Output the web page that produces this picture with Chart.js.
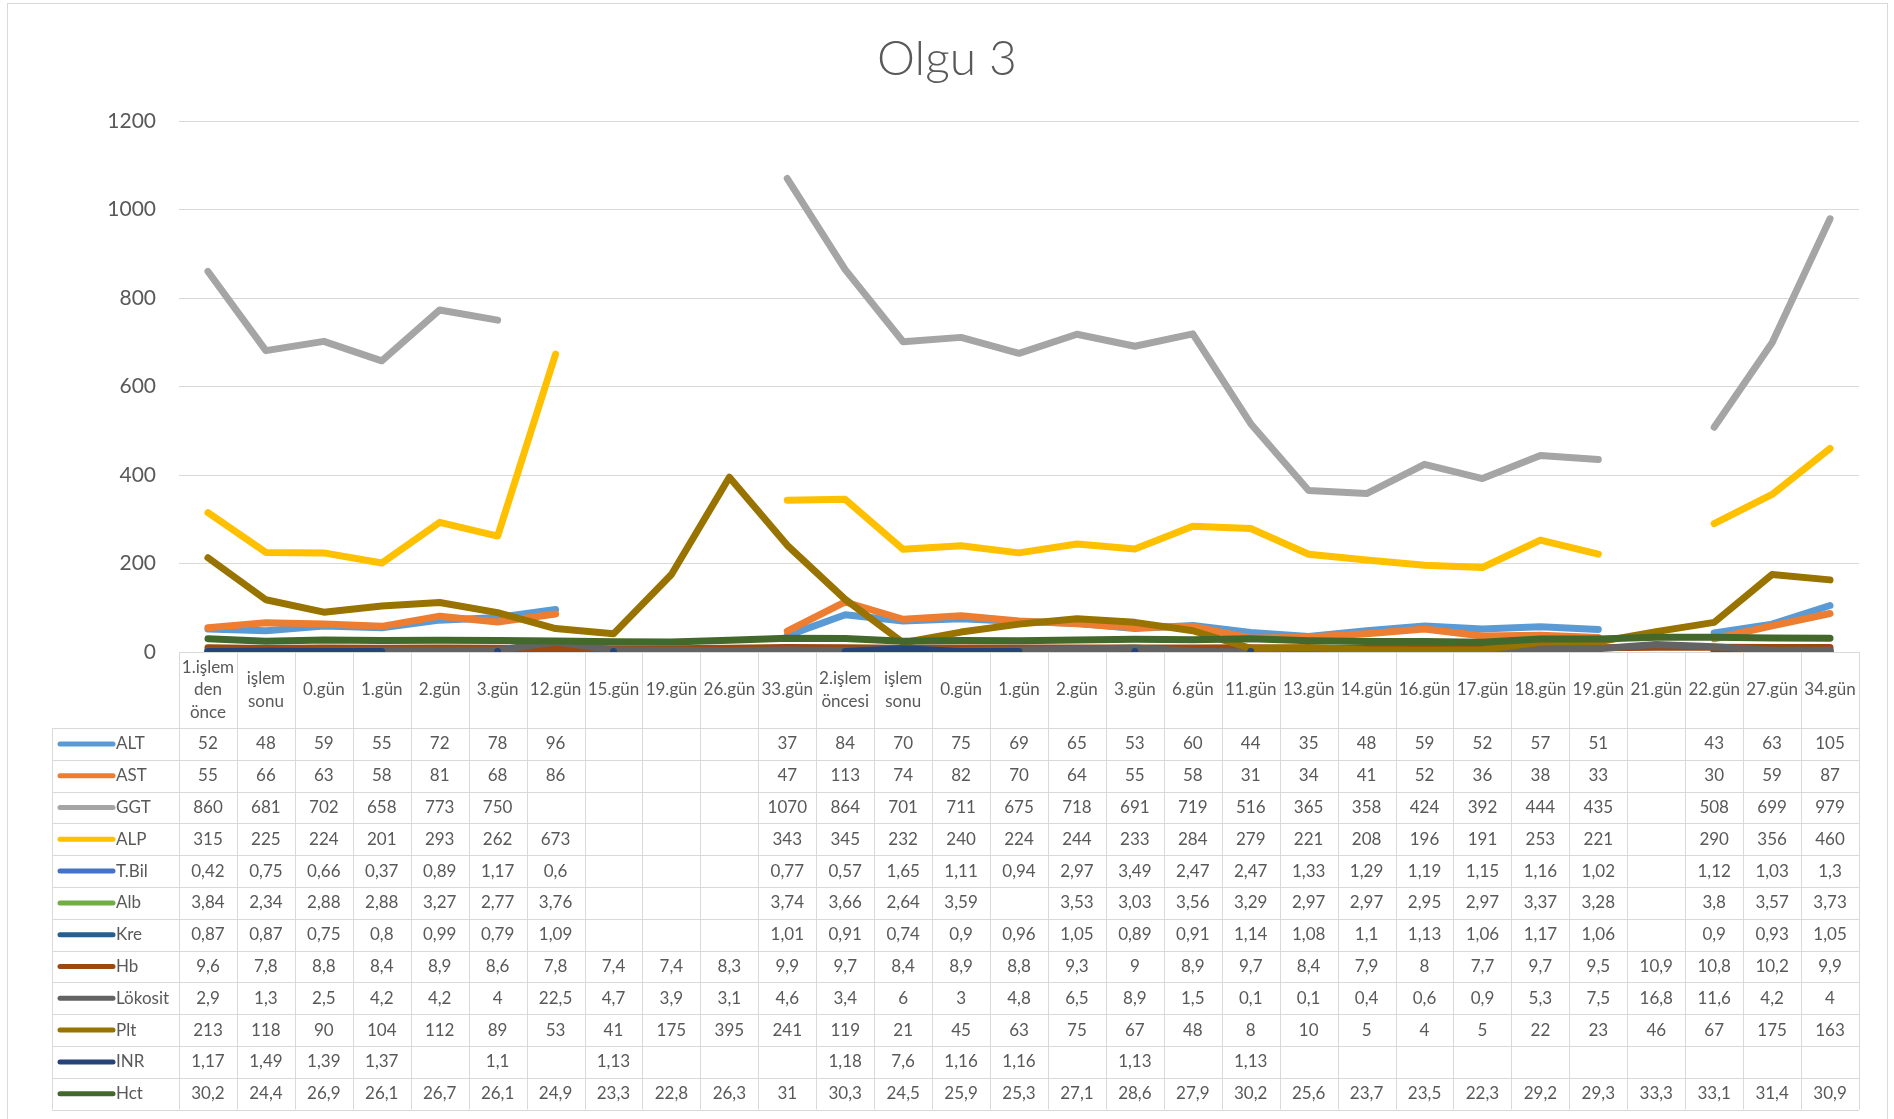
<!DOCTYPE html>
<html lang="tr">
<head>
<meta charset="utf-8">
<title>Olgu 3</title>
<script src="https://cdn.jsdelivr.net/npm/chart.js@4.4.1/dist/chart.umd.min.js"></script>
<style>
  html, body { margin: 0; padding: 0; background: #fff; }
  #marco { position: absolute; left: 7px; top: 3px; width: 1879px; height: 1130px; border: 1px solid #d9d9d9; }
  #grafico { position: absolute; left: 0; top: 0; }
</style>
</head>
<body>
<div id="marco"></div>
<canvas id="grafico" width="1894" height="1119"></canvas>
<script>
// Günler (kategori)
const categorias = ['1.işlem den önce', 'işlem sonu', '0.gün', '1.gün', '2.gün', '3.gün', '12.gün', '15.gün', '19.gün', '26.gün',
  '33.gün', '2.işlem öncesi', 'işlem sonu', '0.gün', '1.gün', '2.gün', '3.gün', '6.gün', '11.gün', '13.gün', '14.gün',
  '16.gün', '17.gün', '18.gün', '19.gün', '21.gün', '22.gün', '27.gün', '34.gün'];

// Değerler (null = boş hücre)
const alt = [52, 48, 59, 55, 72, 78, 96, null, null, null, 37, 84, 70, 75, 69, 65, 53, 60, 44, 35, 48, 59, 52, 57, 51, null, 43, 63, 105];
const ast = [55, 66, 63, 58, 81, 68, 86, null, null, null, 47, 113, 74, 82, 70, 64, 55, 58, 31, 34, 41, 52, 36, 38, 33, null, 30, 59, 87];
const ggt = [860, 681, 702, 658, 773, 750, null, null, null, null, 1070, 864, 701, 711, 675, 718, 691, 719, 516, 365, 358, 424, 392, 444, 435, null, 508, 699, 979];
const alp = [315, 225, 224, 201, 293, 262, 673, null, null, null, 343, 345, 232, 240, 224, 244, 233, 284, 279, 221, 208, 196, 191, 253, 221, null, 290, 356, 460];
const tbil = [0.42, 0.75, 0.66, 0.37, 0.89, 1.17, 0.6, null, null, null, 0.77, 0.57, 1.65, 1.11, 0.94, 2.97, 3.49, 2.47, 2.47, 1.33, 1.29, 1.19, 1.15, 1.16, 1.02, null, 1.12, 1.03, 1.3];
const alb = [3.84, 2.34, 2.88, 2.88, 3.27, 2.77, 3.76, null, null, null, 3.74, 3.66, 2.64, 3.59, null, 3.53, 3.03, 3.56, 3.29, 2.97, 2.97, 2.95, 2.97, 3.37, 3.28, null, 3.8, 3.57, 3.73];
const kre = [0.87, 0.87, 0.75, 0.8, 0.99, 0.79, 1.09, null, null, null, 1.01, 0.91, 0.74, 0.9, 0.96, 1.05, 0.89, 0.91, 1.14, 1.08, 1.1, 1.13, 1.06, 1.17, 1.06, null, 0.9, 0.93, 1.05];
const hb = [9.6, 7.8, 8.8, 8.4, 8.9, 8.6, 7.8, 7.4, 7.4, 8.3, 9.9, 9.7, 8.4, 8.9, 8.8, 9.3, 9, 8.9, 9.7, 8.4, 7.9, 8, 7.7, 9.7, 9.5, 10.9, 10.8, 10.2, 9.9];
const lokosit = [2.9, 1.3, 2.5, 4.2, 4.2, 4, 22.5, 4.7, 3.9, 3.1, 4.6, 3.4, 6, 3, 4.8, 6.5, 8.9, 1.5, 0.1, 0.1, 0.4, 0.6, 0.9, 5.3, 7.5, 16.8, 11.6, 4.2, 4];
const plt = [213, 118, 90, 104, 112, 89, 53, 41, 175, 395, 241, 119, 21, 45, 63, 75, 67, 48, 8, 10, 5, 4, 5, 22, 23, 46, 67, 175, 163];
const inr = [1.17, 1.49, 1.39, 1.37, null, 1.1, null, 1.13, null, null, null, 1.18, 7.6, 1.16, 1.16, null, 1.13, null, 1.13, null, null, null, null, null, null, null, null, null, null];
const hct = [30.2, 24.4, 26.9, 26.1, 26.7, 26.1, 24.9, 23.3, 22.8, 26.3, 31, 30.3, 24.5, 25.9, 25.3, 27.1, 28.6, 27.9, 30.2, 25.6, 23.7, 23.5, 22.3, 29.2, 29.3, 33.3, 33.1, 31.4, 30.9];

const nombres = ['ALT', 'AST', 'GGT', 'ALP', 'T.Bil', 'Alb', 'Kre', 'Hb', 'Lökosit', 'Plt', 'INR', 'Hct'];
const valores = [alt, ast, ggt, alp, tbil, alb, kre, hb, lokosit, plt, inr, hct];
const colores = ['#5b9bd5', '#ed7d31', '#a5a5a5', '#ffc000', '#4472c4', '#70ad47', '#255e91', '#9e480e', '#636363', '#997300', '#264478', '#43682b'];

const yTicks = [0, 200, 400, 600, 800, 1000, 1200];

const fuente = 'Lato, "Open Sans", sans-serif';
const gris = '#595959';

function formato(v) {
  return v == null ? '' : String(v).replace('.', ',');
}

// Tabla de datos debajo del gráfico
const tablaPlugin = {
  id: 'tabla',
  afterDraw(chart) {
    const { ctx, chartArea } = chart;
    const x = chart.scales.x;
    const n = categorias.length;
    const colW = (chartArea.right - chartArea.left) / n;
    const top = chartArea.bottom;
    const headerBottom = top + 76;
    const rowH = 31.8;
    const bottom = headerBottom + rowH * nombres.length;
    const legendLeft = 52;

    ctx.save();
    ctx.strokeStyle = '#d9d9d9';
    ctx.lineWidth = 1;
    ctx.beginPath();
    for (let i = 0; i <= n; i++) {
      const xx = Math.round(chartArea.left + i * colW) + 0.5;
      ctx.moveTo(xx, top);
      ctx.lineTo(xx, bottom);
    }
    ctx.moveTo(legendLeft + 0.5, headerBottom);
    ctx.lineTo(legendLeft + 0.5, bottom);
    for (let r = 0; r <= nombres.length; r++) {
      const yy = Math.round(headerBottom + r * rowH) + 0.5;
      ctx.moveTo(legendLeft, yy);
      ctx.lineTo(chartArea.right, yy);
    }
    ctx.stroke();

    ctx.fillStyle = gris;
    ctx.font = '17px ' + fuente;
    ctx.textAlign = 'center';
    ctx.textBaseline = 'middle';

    // encabezado con salto de línea
    categorias.forEach((cat, i) => {
      const cx = x.getPixelForValue(i);
      const palabras = cat.split(' ');
      const lineas = [];
      let actual = '';
      palabras.forEach(p => {
        const prueba = actual ? actual + ' ' + p : p;
        if (actual && ctx.measureText(prueba).width > colW - 4) {
          lineas.push(actual);
          actual = p;
        } else {
          actual = prueba;
        }
      });
      lineas.push(actual);
      const lh = 22.5;
      const y0 = (top + headerBottom) / 2 - (lineas.length - 1) * lh / 2;
      lineas.forEach((l, k) => ctx.fillText(l, cx, y0 + k * lh));
    });

    // filas
    nombres.forEach((nombre, r) => {
      const cy = headerBottom + r * rowH + rowH / 2;
      ctx.strokeStyle = colores[r];
      ctx.lineWidth = 5;
      ctx.lineCap = 'round';
      ctx.beginPath();
      ctx.moveTo(60, cy);
      ctx.lineTo(113, cy);
      ctx.stroke();
      ctx.textAlign = 'left';
      ctx.fillText(nombre, 116, cy);
      ctx.textAlign = 'center';
      valores[r].forEach((v, i) => {
        ctx.fillText(formato(v), x.getPixelForValue(i), cy);
      });
    });
    ctx.restore();
  }
};

const ctx = document.getElementById('grafico').getContext('2d');

new Chart(ctx, {
  type: 'line',
  data: {
    labels: categorias,
    datasets: nombres.map((nombre, i) => ({
      label: nombre,
      data: valores[i],
      borderColor: colores[i],
      backgroundColor: colores[i],
      borderWidth: 7,
      borderCapStyle: 'round',
      borderJoinStyle: 'round',
      pointRadius: 0,
      tension: 0,
      spanGaps: false,
      order: nombres.length - i
    }))
  },
  options: {
    responsive: false,
    animation: false,
    layout: {
      padding: { top: 0, left: 35, right: 35, bottom: 467 }
    },
    plugins: {
      legend: { display: false },
      tooltip: { enabled: false },
      title: {
        display: true,
        text: 'Olgu 3',
        color: gris,
        font: { family: fuente, size: 48, weight: '300' },
        padding: { top: 30.5, bottom: 32.9 }
      }
    },
    scales: {
      x: {
        offset: true,
        ticks: { display: false },
        grid: { display: false },
        border: { display: false },
        afterFit: (scale) => { scale.height = 0; }
      },
      y: {
        min: 0,
        max: 1200,
        afterFit: (scale) => { scale.width = 144; },
        afterBuildTicks: (scale) => { scale.ticks = yTicks.map(v => ({ value: v })); },
        ticks: {
          color: gris,
          padding: 23,
          font: { family: fuente, size: 21 },
          callback: (v) => String(v)
        },
        grid: { color: '#d9d9d9', lineWidth: 1, drawTicks: false },
        border: { display: false }
      }
    }
  },
  plugins: [tablaPlugin]
});
</script>
</body>
</html>
